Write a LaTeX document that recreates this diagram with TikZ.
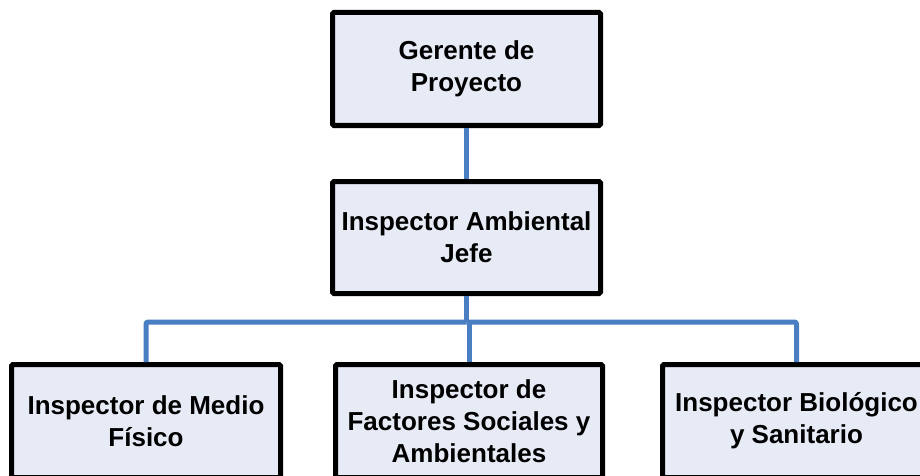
\documentclass[tikz,border=0pt]{standalone}
\usepackage{fontspec}
\setmainfont{Liberation Sans}
\definecolor{boxfill}{HTML}{E6EBF6}
\definecolor{linkblue}{HTML}{4A7EC2}
\begin{document}
\begin{tikzpicture}[x=1pt,y=-1pt,
  orgbox/.style={draw=black, line width=5pt, fill=boxfill, rounded corners=1.5pt,
    minimum width=268pt, minimum height=113pt, inner sep=0pt, align=center,
    font=\bfseries\fontsize{26}{32}\selectfont},
  link/.style={draw=linkblue, line width=5pt, line join=round, rounded corners=1.5pt}]
\useasboundingbox (0,0) rectangle (920,476);
\clip (0,0) rectangle (920,476);
\node[orgbox] (gp) at (466.5,69) {Gerente de\\Proyecto};
\node[orgbox, minimum height=112pt] (ia) at (466.5,237.5) {Inspector Ambiental\\Jefe};
\node[orgbox, minimum width=269pt] (mf) at (146,421) {Inspector de Medio\\Físico};
\node[orgbox, minimum width=267pt] (fs) at (469,421) {Inspector de\\Factores Sociales y\\Ambientales};
\node[orgbox] (bs) at (796.5,421) {Inspector Biológico\\y Sanitario};
\coordinate (bus) at (466.5,322);
\draw[link] (gp.south) -- (ia.north);
\draw[link] (ia.south) -- (bus);
\draw[link] (mf.north) |- (bus);
\draw[link] (bs.north) |- (bus);
\draw[link] (fs.north) -- (fs.north |- bus);
\end{tikzpicture}
\end{document}
